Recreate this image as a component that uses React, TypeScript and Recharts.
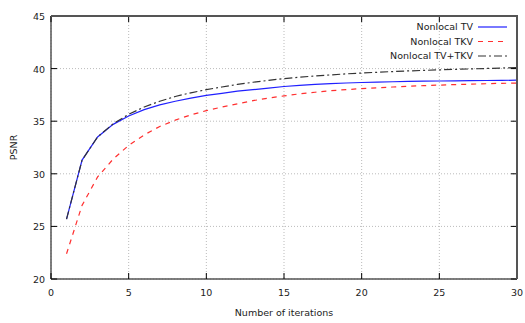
import { LineChart, Line, XAxis, YAxis, CartesianGrid } from "recharts";

const iterations = [
  1, 2, 3, 4, 5, 6, 7, 8, 9, 10, 11, 12, 13, 14, 15, 16, 17, 18, 19, 20, 21,
  22, 23, 24, 25, 26, 27, 28, 29, 30,
];

const tvValues = [
  25.7, 31.3, 33.5, 34.7, 35.5, 36.1, 36.55, 36.9, 37.2, 37.45, 37.65, 37.85,
  38.0, 38.15, 38.3, 38.4, 38.5, 38.57, 38.63, 38.68, 38.72, 38.75, 38.78, 38.8,
  38.82, 38.84, 38.86, 38.87, 38.88, 38.9,
];

const tkvValues = [
  22.4, 27.0, 29.7, 31.4, 32.7, 33.7, 34.5, 35.1, 35.6, 36.0, 36.35, 36.65,
  36.95, 37.2, 37.4, 37.6, 37.75, 37.9, 38.0, 38.1, 38.18, 38.25, 38.32, 38.38,
  38.43, 38.48, 38.52, 38.56, 38.6, 38.63,
];

const tvTkvValues = [
  25.7, 31.3, 33.5, 34.75, 35.65, 36.35, 36.9, 37.35, 37.7, 38.0, 38.25, 38.5,
  38.7, 38.88, 39.05, 39.18, 39.3, 39.4, 39.5, 39.58, 39.65, 39.72, 39.78,
  39.83, 39.88, 39.93, 39.97, 40.01, 40.05, 40.1,
];

const xTicks = [0, 5, 10, 15, 20, 25, 30];
const yTicks = [20, 25, 30, 35, 40, 45];

const FONT = "'DejaVu Sans', Verdana, sans-serif";
const FS = 9.5;
const FRAME = "#555";

// plot box (chart 525x323 minus margins/axes)
const PLOT_X = 51;
const PLOT_Y = 16;
const PLOT_W = 466;
const PLOT_H = 263;

const series = [
  { key: "tv", name: "Nonlocal TV", color: "#2020ff", dash: undefined },
  { key: "tkv", name: "Nonlocal TKV", color: "#ff3030", dash: "5 5" },
  { key: "tvtkv", name: "Nonlocal TV+TKV", color: "#333333", dash: "8 3 2 3" },
];

const data = iterations.map((it, i) => ({
  it,
  tv: tvValues[i],
  tkv: tkvValues[i],
  tvtkv: tvTkvValues[i],
}));

// gnuplot style: ticks point inwards, mirrored on top / right
const BottomTick = ({ x, y, payload }: any) => (
  <g>
    <line x1={x} y1={y} x2={x} y2={y - 6} stroke="#000" strokeWidth={1} />
    <line x1={x} y1={y - PLOT_H} x2={x} y2={y - PLOT_H + 6} stroke="#000" strokeWidth={1} />
    <text x={x} y={y + 17} textAnchor="middle" fontFamily={FONT} fontSize={FS} fill="#222">
      {payload.value}
    </text>
  </g>
);

const LeftTick = ({ x, y, payload }: any) => (
  <g>
    <line x1={x} y1={y} x2={x + 6} y2={y} stroke="#000" strokeWidth={1} />
    <line x1={x + PLOT_W} y1={y} x2={x + PLOT_W - 6} y2={y} stroke="#000" strokeWidth={1} />
    <text x={x - 6} y={y + 4} textAnchor="end" fontFamily={FONT} fontSize={FS} fill="#222">
      {payload.value}
    </text>
  </g>
);

function LegendBox() {
  return (
    <svg
      width={200}
      height={50}
      style={{ position: "absolute", left: 325, top: 18, pointerEvents: "none" }}
    >
      {series.map((s, i) => (
        <g key={s.key}>
          <text
            x={148}
            y={12 + i * 14.5}
            textAnchor="end"
            fontFamily={FONT}
            fontSize={FS}
            fill="#222"
          >
            {s.name}
          </text>
          <line
            x1={153}
            y1={9 + i * 14.5}
            x2={182}
            y2={9 + i * 14.5}
            stroke={s.color}
            strokeWidth={1.2}
            strokeDasharray={s.dash}
          />
        </g>
      ))}
    </svg>
  );
}

export default function App() {
  return (
    <div style={{ position: "absolute", left: 0, top: 0, width: 525, height: 323, background: "#fff" }}>
      <LineChart
        width={525}
        height={323}
        data={data}
        margin={{ top: 16, right: 8, bottom: 0, left: 0 }}
        style={{ overflow: "visible" }}
      >
        <CartesianGrid stroke="#bbb" strokeDasharray="1 2" />
        <XAxis
          dataKey="it"
          type="number"
          domain={[0, 30]}
          ticks={xTicks}
          height={44}
          tickSize={0}
          tickMargin={0}
          tickLine={false}
          tick={<BottomTick />}
          axisLine={{ stroke: FRAME, strokeWidth: 1.5 }}
          label={{
            value: "Number of iterations",
            position: "insideBottom",
            offset: 7,
            style: { fontFamily: FONT, fontSize: FS, fill: "#222" },
          }}
        />
        <YAxis
          type="number"
          domain={[20, 45]}
          ticks={yTicks}
          width={51}
          tickSize={0}
          tickMargin={0}
          tickLine={false}
          tick={<LeftTick />}
          axisLine={{ stroke: FRAME, strokeWidth: 1.5 }}
          label={{
            value: "PSNR",
            angle: -90,
            position: "insideLeft",
            offset: 14,
            style: { fontFamily: FONT, fontSize: FS, fill: "#222", textAnchor: "middle" },
          }}
        />
        {series.map((s) => (
          <Line
            key={s.key}
            type="linear"
            dataKey={s.key}
            name={s.name}
            stroke={s.color}
            strokeWidth={1.2}
            strokeDasharray={s.dash}
            dot={false}
            activeDot={false}
            isAnimationActive={false}
          />
        ))}
      </LineChart>
      {/* top / right edges of the plot frame */}
      <div
        style={{
          position: "absolute",
          left: PLOT_X,
          top: PLOT_Y - 1,
          width: PLOT_W + 1,
          height: PLOT_H + 1,
          borderTop: `2px solid ${FRAME}`,
          borderRight: `2px solid ${FRAME}`,
          boxSizing: "border-box",
          pointerEvents: "none",
        }}
      />
      <LegendBox />
    </div>
  );
}
